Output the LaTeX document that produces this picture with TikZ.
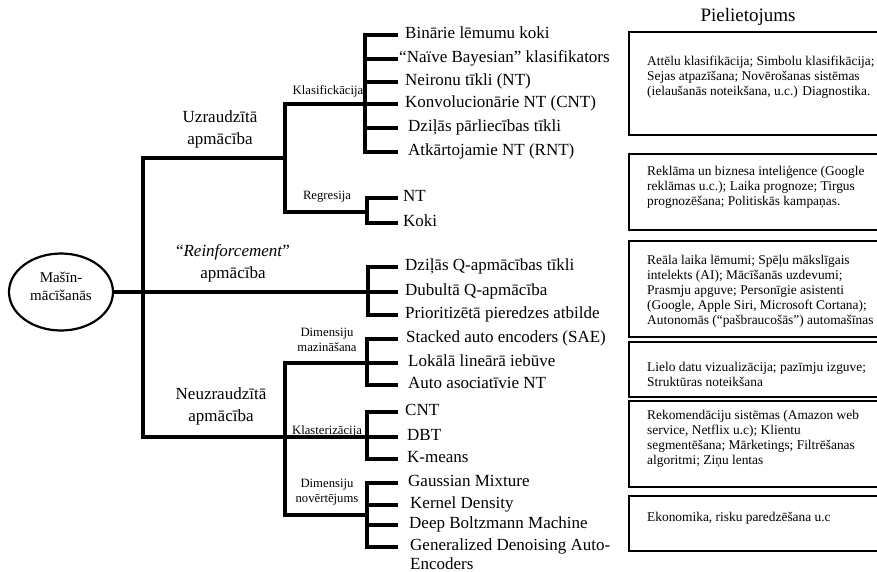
\documentclass[tikz,border=0pt]{standalone}
\usepackage{fontspec}
\setmainfont{Liberation Serif}
\usetikzlibrary{shapes.geometric}
\begin{document}
\begin{tikzpicture}[x=1pt,y=-1pt,
  wire/.style={line width=3.4pt, line join=miter},
  leaf/.style={anchor=west, inner ysep=0pt, inner xsep=7pt, text height=11pt, text depth=4pt, font=\fontsize{17}{20}\selectfont},
  grouplbl/.style={align=center, inner sep=0pt, font=\fontsize{17}{22}\selectfont},
  sublbl/.style={align=center, inner sep=0pt, font=\fontsize{12.7}{15}\selectfont},
  appbox/.style={line width=2.8pt},
  apptext/.style={anchor=north west, align=left, inner sep=0pt, font=\fontsize{13.4}{15}\selectfont},
]
\useasboundingbox (0,0) rectangle (877,572);

% root
\node[draw, ellipse, line width=2.2pt, minimum width=104pt, minimum height=77pt, inner sep=0pt,
      align=center, font=\fontsize{15}{18}\selectfont] (ml) at (61,292)
      {Mašīn-\\mācīšanās\rule[-12pt]{0pt}{12pt}};

% junction points
\coordinate (tr)  at (143,292);
\coordinate (sJ)  at (285,158);
\coordinate (uJ)  at (285,437);
\coordinate (kJ)  at (365,104);
\coordinate (gJ)  at (367,212);
\coordinate (rJ)  at (368,292);
\coordinate (dmJ) at (367,363);
\coordinate (klJ) at (367,437);
\coordinate (dnJ) at (367,515);

% group labels
\node[grouplbl] (sup)   at (220,129) {Uzraudzītā\\apmācība};
\node[grouplbl] (rein)  at (233,263) {“\textit{Reinforcement}”\\apmācība};
\node[grouplbl] (unsup) at (221,406) {Neuzraudzītā\\apmācība};

% sub-group labels
\node[sublbl] (lkl) at (328,91)  {Klasifickācija};
\node[sublbl] (lrg) at (327,197) {Regresija};
\node[sublbl] (ldm) at (327,340) {Dimensiju\\mazināšana};
\node[sublbl] (lks) at (327,431) {Klasterizācija};
\node[sublbl] (ldn) at (327,492) {Dimensiju\\novērtējums};

% leaves: classification
\node[leaf] (b1) at (398,35)  {Binārie lēmumu koki};
\node[leaf, inner xsep=1pt] (b2) at (398,59) {“Naïve Bayesian” klasifikators};
\node[leaf] (b3) at (398,82)  {Neironu tīkli (NT)};
\node[leaf] (b4) at (398,104) {Konvolucionārie NT (CNT)};
\node[leaf, inner xsep=10pt] (b5) at (398,128) {Dziļās pārliecības tīkli};
\node[leaf, inner xsep=10pt] (b6) at (398,152) {Atkārtojamie NT (RNT)};
% leaves: regression
\node[leaf, inner xsep=5pt] (g1) at (398,198) {NT};
\node[leaf, inner xsep=5pt] (g2) at (398,223) {Koki};
% leaves: reinforcement
\node[leaf] (q1) at (398,267) {Dziļās Q-apmācības tīkli};
\node[leaf] (q2) at (398,292) {Dubultā Q-apmācība};
\node[leaf] (q3) at (398,315) {Prioritizētā pieredzes atbilde};
% leaves: dimensionality reduction
\node[leaf, inner xsep=8pt] (d1) at (398,339) {Stacked auto encoders (SAE)};
\node[leaf, inner xsep=10pt] (d2) at (398,363) {Lokālā lineārā iebūve};
\node[leaf, inner xsep=10pt] (d3) at (398,385) {Auto asociatīvie NT};
% leaves: clustering
\node[leaf] (c1) at (398,412) {CNT};
\node[leaf, inner xsep=9pt] (c2) at (398,437) {DBT};
\node[leaf, inner xsep=9pt] (c3) at (398,459) {K-means};
% leaves: density estimation
\node[leaf, inner xsep=10pt] (e1) at (398,483) {Gaussian Mixture};
\node[leaf, inner xsep=12pt] (e2) at (398,505) {Kernel Density};
\node[leaf, inner xsep=11pt] (e3) at (398,525) {Deep Boltzmann Machine};
\node[leaf, inner xsep=12pt] (e4) at (398,547) {Generalized Denoising Auto-};
\node[leaf, inner xsep=12pt] (e4b) at ([yshift=-19pt]e4.west) {Encoders};

% trunk
\draw[wire] (ml.east) -- (tr);
\draw[wire] (tr) |- (sJ);
\draw[wire] (tr) |- (uJ);
\draw[wire] (tr) -- (rJ);
% second level
\draw[wire] (sJ) |- (kJ);
\draw[wire] (sJ) |- (gJ);
\draw[wire] (uJ) |- (dmJ);
\draw[wire] (uJ) -- (klJ);
\draw[wire] (uJ) |- (dnJ);
% leaf brackets
\foreach \n in {b1,b2,b3,b4,b5,b6} \draw[wire] (kJ) |- (\n.west);
\foreach \n in {g1,g2} \draw[wire] (gJ) |- (\n.west);
\foreach \n in {q1,q2,q3} \draw[wire] (rJ) |- (\n.west);
\foreach \n in {d1,d2,d3} \draw[wire] (dmJ) |- (\n.west);
\foreach \n in {c1,c2,c3} \draw[wire] (klJ) |- (\n.west);
\foreach \n in {e1,e2,e3,e4} \draw[wire] (dnJ) |- (\n.west);

% application column
\node[font=\fontsize{19}{22}\selectfont, inner sep=0pt] (apt) at (748,17) {Pielietojums};

\draw[appbox] (629,32)  rectangle (890,135);
\draw[appbox] (629,154) rectangle (890,230);
\draw[appbox] (629,241) rectangle (890,337);
\draw[appbox] (629,342) rectangle (890,397);
\draw[appbox] (629,401) rectangle (890,487);
\draw[appbox] (629,496) rectangle (890,551);

\node[apptext] (a1) at (647,56) {Attēlu klasifikācija; Simbolu klasifikācija;\\Sejas atpazīšana; Novērošanas sistēmas\\(ielaušanās noteikšana, u.c.) Diagnostika.};
\node[apptext] (a2) at (647,166) {Reklāma un biznesa inteliģence (Google\\reklāmas u.c.); Laika prognoze; Tirgus\\prognozēšana; Politiskās kampaņas.};
\node[apptext] (a3) at (647,255) {Reāla laika lēmumi; Spēļu mākslīgais\\intelekts (AI); Mācīšanās uzdevumi;\\Prasmju apguve; Personīgie asistenti\\(Google, Apple Siri, Microsoft Cortana);\\Autonomās (“pašbraucošās”) automašīnas};
\node[apptext] (a4) at (647,362) {Lielo datu vizualizācija; pazīmju izguve;\\Struktūras noteikšana};
\node[apptext] (a5) at (647,410) {Rekomendāciju sistēmas (Amazon web\\service, Netflix u.c); Klientu\\segmentēšana; Mārketings; Filtrēšanas\\algoritmi; Ziņu lentas};
\node[apptext] (a6) at (647,512) {Ekonomika, risku paredzēšana u.c};
\end{tikzpicture}
\end{document}
